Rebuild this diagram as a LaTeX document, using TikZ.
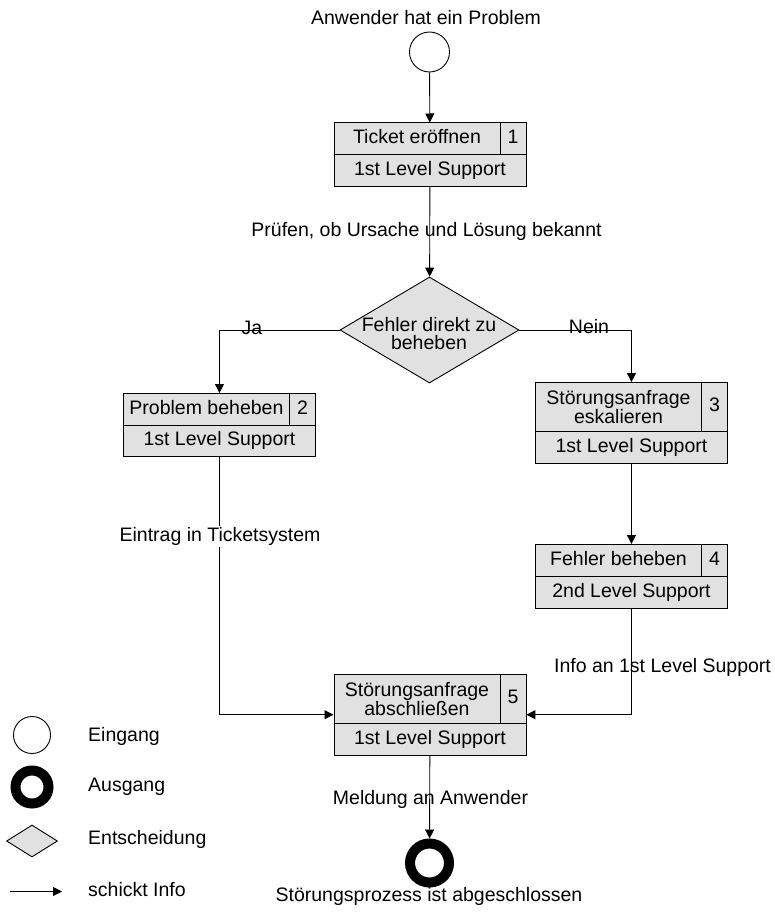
\documentclass[tikz,border=0pt]{standalone}
\usepackage{fontspec}
\setmainfont{Liberation Sans}
\usetikzlibrary{shapes.geometric,arrows.meta}
\definecolor{boxgray}{RGB}{225,225,225}

% task box: #1 name, #2 left x, #3 top y, #4 title row height, #5 total height,
% #6 extra style for the title text, #7 title, #8 number, #9 role
\newcommand\taskbox[9]{%
  \node[frame, anchor=north west, minimum height=#5pt] (#1) at (#2,#3) {};
  \node[cell, #6, anchor=north west, minimum width=166pt, minimum height=#4pt] (#1-title) at (#1.north west) {#7};
  \node[cell, onecell, anchor=north east, minimum width=26pt, minimum height=#4pt] (#1-nr) at (#1.north east) {#8};
  \node[cell, onecell, anchor=south, minimum width=192pt, minimum height=31.5pt] (#1-role) at (#1.south) {#9};
}

\begin{document}
\begin{tikzpicture}[x=1pt,y=-1pt,
  font=\fontsize{19.5}{18.5}\selectfont,
  frame/.style={draw, fill=boxgray, line width=0.9pt, rectangle, minimum width=192pt, inner sep=0pt},
  cell/.style={draw, line width=0.9pt, rectangle, inner sep=1pt, align=center},
  onecell/.style={text height=14pt, text depth=4pt},
  flow/.style={draw, line width=0.9pt, -{Triangle[length=9pt,width=9pt]}},
  lbl/.style={inner sep=0pt, anchor=base},
  legtext/.style={inner sep=0pt, anchor=base west},
  decision/.style={diamond, draw, fill=boxgray, line width=0.9pt, inner sep=0pt},
  entry/.style={circle, draw, line width=0.9pt, inner sep=0pt},
  exit/.style={circle, draw, line width=10pt, inner sep=0pt},
]
\useasboundingbox (0,0) rectangle (775,912);

% start and end events
\node[lbl] (start-text) at (426,25) {Anwender hat ein Problem};
\node[entry, minimum size=40pt] (start) at (429.5,52) {};
\node[exit, minimum size=39pt] (stop) at (429.5,863) {};
\node[lbl] (stop-text) at (429,901) {Störungsprozess ist abgeschlossen};

% tasks
\taskbox{t1}{333.5}{122.5}{32}{63.5}{onecell}{Ticket eröffnen}{1}{1st Level Support}
\taskbox{t2}{123}{393}{31.5}{63}{onecell}{Problem beheben}{2}{1st Level Support}
\taskbox{t3}{535}{382}{49}{80.5}{}{Störungsanfrage\\eskalieren}{3}{1st Level Support}
\taskbox{t4}{535}{544}{32}{63.5}{onecell}{Fehler beheben}{4}{2nd Level Support}
\taskbox{t5}{333.5}{674}{49}{80.5}{}{Störungsanfrage\\abschließen}{5}{1st Level Support}

% decision
\node[decision, minimum width=179pt, minimum height=106pt] (dec) at (429.5,330) {};
\node[align=center, inner sep=0pt] (dec-text) at (429,333.4) {Fehler direkt zu\\beheben};

% connectors
\draw[flow] (start) -- (t1);
\draw[flow] (t1) -- (dec);
\draw[flow] (dec) -| (t2);
\draw[flow] (dec) -| (t3);
\draw[flow] (t3) -- (t4);
\draw[flow] (t2) |- (t5);
\draw[flow] (t4) |- (t5);
\draw[flow] (t5) -- (stop);

% connector labels
\node[lbl] (check) at (426.5,236) {Prüfen, ob Ursache und Lösung bekannt};
\node[lbl] (yes) at (252,334) {Ja};
\node[lbl] (no) at (589,333) {Nein};
\node[lbl, fill=white, inner sep=1pt] (log) at (220,541.5) {Eintrag in Ticketsystem};
\node[lbl] (info) at (662.5,672.7) {Info an 1st Level Support};
\node[lbl] (notify) at (430.5,804) {Meldung an Anwender};

% legend
\node[entry, minimum size=37pt] (lg-in) at (32,735) {};
\node[legtext] (lg-in-text) at (88,741.7) {Eingang};
\node[exit, minimum size=33pt] (lg-out) at (32,787) {};
\node[legtext] (lg-out-text) at (88,791.7) {Ausgang};
\node[decision, minimum width=51pt, minimum height=32pt] (lg-dec) at (32,841) {};
\node[legtext] (lg-dec-text) at (88,844) {Entscheidung};
\coordinate (lg-a) at (10,891.5);
\coordinate (lg-b) at (62,891.5);
\draw[flow] (lg-a) -- (lg-b);
\node[legtext] (lg-arrow-text) at (88,896.7) {schickt Info};
\end{tikzpicture}
\end{document}
